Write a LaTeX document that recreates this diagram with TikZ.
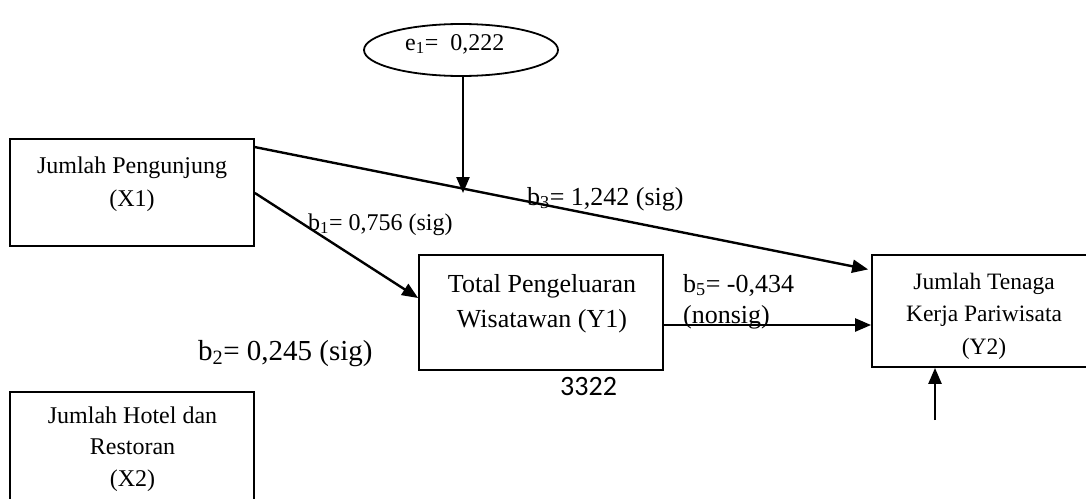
\documentclass[tikz,border=0pt]{standalone}
\usepackage{fontspec}
\setmainfont{Liberation Serif}
\newfontfamily\calibrifont{Carlito}
\usetikzlibrary{arrows.meta,shapes.geometric}
\begin{document}
\begin{tikzpicture}[x=1pt,y=-1pt,
  box/.style={draw, rectangle, line width=1.8pt, inner sep=0pt},
  lbl/.style={font=\fontsize{24}{33}\selectfont, align=center, inner sep=0pt},
  arr/.style={-{Triangle[length=16pt,width=13pt]}, line width=2.4pt}]
\useasboundingbox (0,0) rectangle (1086,498);
\clip (0,0) rectangle (1086,498);
% boxes
\node[box, minimum width=244pt, minimum height=107pt] (x1) at (132,192.5) {};
\node[box, minimum width=244pt, minimum height=110pt] (x2) at (132,447) {};
\node[box, minimum width=244pt, minimum height=115pt] (y1) at (541,312.5) {};
\node[box, minimum width=224pt, minimum height=112pt] (y2) at (984,311) {};
\node[draw, ellipse, line width=1.8pt, minimum width=194pt, minimum height=52pt, inner sep=0pt] (e1) at (461,50) {};
% box texts
\node[lbl] (x1t) at (132,184) {Jumlah Pengunjung\\(X1)};
\node[lbl, font=\fontsize{24}{31.5}\selectfont] (x2t) at (132.5,449) {Jumlah Hotel dan\\Restoran\\(X2)};
\node[lbl, font=\fontsize{26}{35}\selectfont] (y1t) at (542,303.5) {Total Pengeluaran\\Wisatawan (Y1)};
\node[lbl, font=\fontsize{23.5}{32.5}\selectfont] (y2t) at (984,316) {Jumlah Tenaga\\Kerja Pariwisata\\(Y2)};
\node[lbl, anchor=base west] (e1t) at (405,50) {e\textsubscript{1}=~ 0,222};
% connectors
\coordinate (e1end) at (463,193);
\draw[arr] ([xshift=2pt]e1.south) -- (e1end);
\draw[arr, shorten >=3pt] ([yshift=-9pt]x1.north east) -- ([yshift=41pt]y2.west);
\draw[arr] ([yshift=-0.5pt]x1.east) -- ([yshift=14.5pt]y1.west);
\draw[arr] ([yshift=-12.5pt]y1.east) -- ([yshift=-12.5pt]y1.east -| y2.west);
\coordinate (y2in) at (935,420);
\draw[arr] (y2in) -- (y2in |- y2.south);
% labels
\node[lbl, anchor=base west, font=\fontsize{26}{33}\selectfont] (b3) at (527,205) {b\textsubscript{3}= 1,242 (sig)};
\node[lbl, anchor=base west] (b1) at (308,230) {b\textsubscript{1}= 0,756 (sig)};
\node[lbl, anchor=base west, font=\fontsize{29}{33}\selectfont] (b2) at (198,360) {b\textsubscript{2}= 0,245 (sig)};
\node[lbl, anchor=base west, font=\fontsize{26}{33}\selectfont] (b5) at (683,292) {b\textsubscript{5}= -0,434};
\node[lbl, anchor=base west, font=\fontsize{26}{33}\selectfont] (b5n) at (683,323) {(nonsig)};
\node[lbl, anchor=base west, font=\calibrifont\fontsize{28}{33}\selectfont] (num) at (560,395) {3322};
\end{tikzpicture}
\end{document}
